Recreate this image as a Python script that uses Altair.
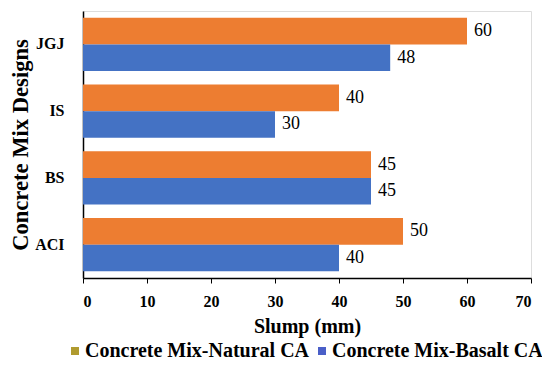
import altair as alt
import pandas as pd

designs = ["ACI", "BS", "IS", "JGJ"]
natural_ca = [50, 45, 40, 60]
basalt_ca = [40, 45, 30, 48]
series_names = ["Concrete Mix-Natural CA", "Concrete Mix-Basalt CA"]
series_colors = ["#ED7D31", "#4472C4"]
legend_colors = ["#B09B2F", "#4A5FC8"]
legend_x = [-18, 229]

rows = []
for d, n, b in zip(designs, natural_ca, basalt_ca):
    rows.append({"design": d, "series": series_names[0], "slump": n})
    rows.append({"design": d, "series": series_names[1], "slump": b})
df = pd.DataFrame(rows)

font = "Liberation Serif"
y_sort = ["JGJ", "IS", "BS", "ACI"]

y_enc = alt.Y(
    "design:N",
    sort=y_sort,
    scale=alt.Scale(paddingInner=0.2, paddingOuter=0.1),
    axis=alt.Axis(
        title="Concrete Mix Designs",
        titleFont=font, titleFontSize=22.6, titleFontWeight="bold", titleColor="black",
        labelFont=font, labelFontSize=16, labelFontWeight="bold", labelColor="black",
        labelPadding=19, ticks=False, domainColor="black", domainWidth=1.5,
        titlePadding=2,
    ),
)
x_enc = alt.X(
    "slump:Q",
    scale=alt.Scale(domain=[0, 70]),
    axis=alt.Axis(
        title="Slump (mm)", values=[0, 10, 20, 30, 40, 50, 60, 70],
        titleFont=font, titleFontSize=20, titleFontWeight="bold", titleColor="black",
        labelFont=font, labelFontSize=16, labelFontWeight="bold", labelColor="black",
        labelPadding=10, tickSize=5, tickColor="black", domainColor="black",
        domainWidth=1.5, grid=False, titlePadding=7,
    ),
)
yoff = alt.YOffset("series:N", sort=series_names)

bars = alt.Chart(df).mark_bar().encode(
    y=y_enc,
    x=x_enc,
    yOffset=yoff,
    color=alt.Color(
        "series:N",
        sort=series_names,
        scale=alt.Scale(domain=series_names, range=series_colors),
        legend=None,
    ),
)


def legend_layer(i):
    name = series_names[i]
    return alt.Chart(df).transform_filter(alt.datum.series == name).mark_bar().encode(
        x=alt.datum(0),
        fill=alt.Fill(
            "series:N",
            scale=alt.Scale(domain=[name], range=[legend_colors[i]]),
            legend=alt.Legend(
                title=None, orient="none", direction="horizontal",
                legendX=legend_x[i], legendY=330, labelLimit=0, padding=0,
                symbolType="square", symbolSize=64, symbolStrokeWidth=0,
                labelFont=font, labelFontSize=20, labelFontWeight="bold",
                labelColor="black", symbolOffset=0, labelOffset=0,
            ),
        ),
    )


labels = alt.Chart(df).mark_text(
    align="left", baseline="middle", dx=7, font=font, fontSize=18, color="black"
).encode(
    y=alt.Y("design:N", sort=y_sort),
    x=alt.X("slump:Q"),
    yOffset=yoff,
    text=alt.Text("slump:Q"),
)

chart = (
    alt.layer(bars, labels, legend_layer(0), legend_layer(1))
    .resolve_scale(color="independent", fill="independent")
    .properties(
        width=448, height=267,
        padding={"left": 75, "top": 3, "right": 11, "bottom": 83},
        autosize=alt.AutoSizeParams(type="none"),
    )
    .configure_view(stroke="black", strokeWidth=1.5)
    .configure(background="white")
)

chart.save("out.html", embed_options={"renderer": "svg", "actions": False})
